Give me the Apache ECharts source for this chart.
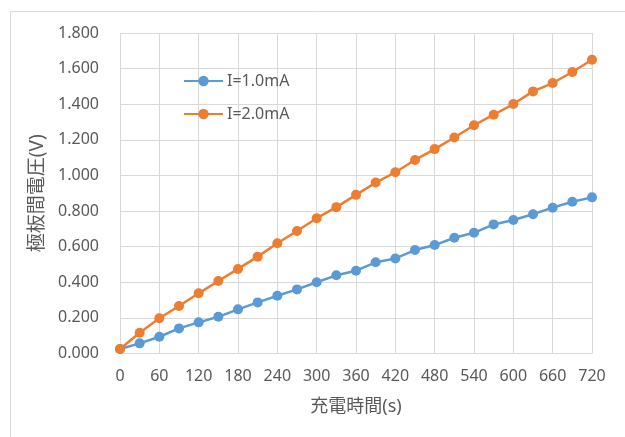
<!DOCTYPE html>
<html>
<head>
<meta charset="utf-8">
<script src="https://cdn.jsdelivr.net/npm/echarts@6/dist/echarts.min.js"></script>
<style>
html,body{margin:0;padding:0;background:#fff;}
#c{width:625px;height:437px;}
</style>
</head>
<body>
<div id="c"></div>
<script>
const times = [0,30,60,90,120,150,180,210,240,270,300,330,360,390,420,450,480,510,540,570,600,630,660,690,720];
const seriesNames = ['I=1.0mA','I=2.0mA'];
const v1mA = [0.025,0.057,0.094,0.141,0.175,0.206,0.248,0.287,0.324,0.360,0.400,0.439,0.465,0.512,0.534,0.581,0.609,0.650,0.678,0.725,0.750,0.782,0.819,0.852,0.877];
const v2mA = [0.025,0.117,0.198,0.267,0.338,0.407,0.475,0.544,0.619,0.688,0.760,0.822,0.891,0.960,1.018,1.087,1.148,1.213,1.282,1.341,1.401,1.472,1.519,1.581,1.650];
const xTitle = '充電時間(s)';
const yTitle = '極板間電圧(V)';

const font = '"Noto Sans", "Noto Sans CJK JP", sans-serif';
const chart = echarts.init(document.getElementById('c'), null, {renderer:'canvas'});
const pair = (xs, ys) => xs.map((x,i)=>[x, ys[i]]);
chart.setOption({
  animation:false,
  backgroundColor:'#fff',
  graphic:[{type:'rect', shape:{x:10.5,y:11.5,width:700,height:500}, style:{fill:'none', stroke:'#d9d9d9', lineWidth:1}, z:-10}],
  grid:{left:120, right:33, top:33, bottom:83.5, containLabel:false},
  legend:{
    orient:'vertical', left:178, top:68, itemWidth:39, itemHeight:13, itemGap:17,
    textStyle:{fontFamily:font, fontSize:16, color:'#595959', padding:[0,0,0,-1]},
    data:seriesNames
  },
  xAxis:{
    type:'value', min:0, max:720, interval:60,
    name:xTitle, nameLocation:'middle', nameGap:44,
    nameTextStyle:{fontFamily:font, fontSize:18, color:'#595959'},
    axisLine:{show:true, lineStyle:{color:'#d9d9d9', width:1}},
    axisTick:{show:false},
    axisLabel:{fontFamily:font, fontSize:16, color:'#595959', margin:15},
    splitLine:{show:true, lineStyle:{color:'#d9d9d9', width:1}}
  },
  yAxis:{
    type:'value', min:0, max:1.8, interval:0.2,
    name:yTitle, nameLocation:'middle', nameGap:71, nameRotate:90,
    nameTextStyle:{fontFamily:font, fontSize:19, color:'#595959'},
    axisLine:{show:false}, axisTick:{show:false},
    axisLabel:{fontFamily:font, fontSize:16, color:'#595959', margin:21, formatter:v=>v.toFixed(3)},
    splitLine:{show:true, lineStyle:{color:'#d9d9d9', width:1}}
  },
  series:[
    {name:seriesNames[0], type:'line', data:pair(times, v1mA), symbol:'circle', symbolSize:10,
     lineStyle:{color:'#5B9BD5', width:2.5}, itemStyle:{color:'#5B9BD5'}},
    {name:seriesNames[1], type:'line', data:pair(times, v2mA), symbol:'circle', symbolSize:10,
     lineStyle:{color:'#ED7D31', width:2.5}, itemStyle:{color:'#ED7D31'}}
  ]
});
</script>
</body>
</html>
